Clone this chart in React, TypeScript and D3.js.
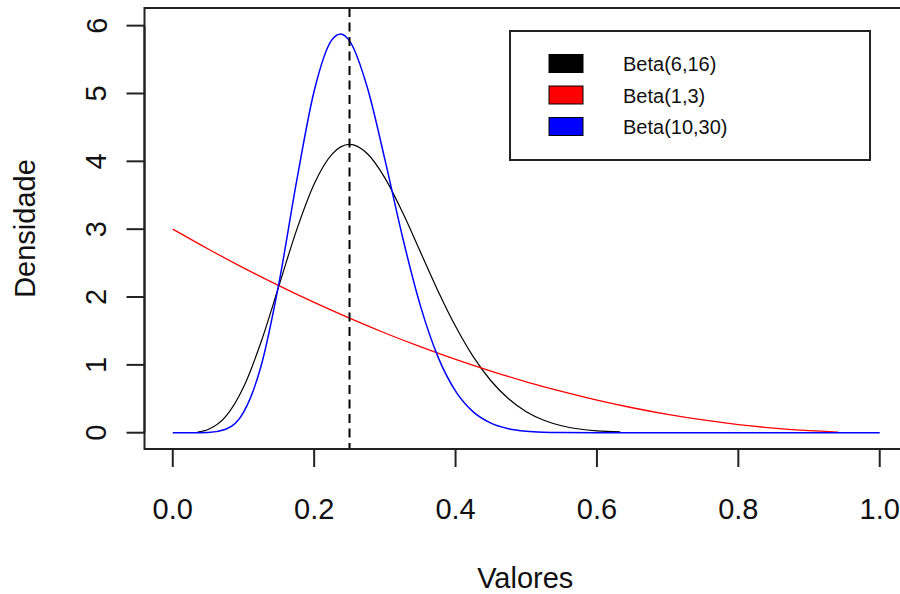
import React from "react";
import * as d3 from "d3";

// Beta(6,16)
const blackX = [0.035, 0.05, 0.075, 0.1, 0.125, 0.15, 0.175, 0.2, 0.225, 0.25, 0.275, 0.3, 0.325, 0.35, 0.375, 0.4, 0.425, 0.45, 0.475, 0.5, 0.525, 0.55, 0.575, 0.6, 0.633];
const blackY = [0.01, 0.047, 0.24, 0.67, 1.341, 2.16, 2.983, 3.666, 4.103, 4.249, 4.115, 3.756, 3.248, 2.671, 2.094, 1.568, 1.121, 0.766, 0.5, 0.31, 0.184, 0.103, 0.055, 0.027, 0.011];

// Beta(1,3)
const redX = [0, 0.05, 0.1, 0.15, 0.2, 0.25, 0.3, 0.35, 0.4, 0.45, 0.5, 0.55, 0.6, 0.65, 0.7, 0.75, 0.8, 0.85, 0.9, 0.941];
const redY = [3.0, 2.708, 2.43, 2.168, 1.92, 1.688, 1.47, 1.268, 1.08, 0.908, 0.75, 0.608, 0.48, 0.368, 0.27, 0.188, 0.12, 0.068, 0.03, 0.01];

// Beta(10,30)
const blueX = [0, 0.025, 0.05, 0.075, 0.1, 0.125, 0.15, 0.175, 0.2, 0.225, 0.2375, 0.25, 0.275, 0.3, 0.325, 0.35, 0.375, 0.4, 0.425, 0.45, 0.475, 0.5, 0.525, 0.55, 0.6, 0.7, 0.8, 0.9, 1.0];
const blueY = [0, 0, 0.003, 0.05, 0.299, 0.986, 2.194, 3.697, 5.037, 5.79, 5.878, 5.775, 5.095, 4.029, 2.884, 1.881, 1.122, 0.614, 0.308, 0.142, 0.06, 0.023, 0.008, 0.003, 0, 0, 0, 0, 0];

const xTicks = [0, 0.2, 0.4, 0.6, 0.8, 1.0];
const yTicks = [0, 1, 2, 3, 4, 5, 6];
const refLine = 0.25;

const legendLabels = ["Beta(6,16)", "Beta(1,3)", "Beta(10,30)"];
const legendColors = ["#000000", "#ff0000", "#0000ff"];

const FONT = "'Liberation Sans', Arial, Helvetica, sans-serif";

export default function App() {
  const left = 144.5, right = 908, top = 8, bottom = 449;
  const x = d3.scaleLinear().domain([-0.04, 1.04]).range([left, right]);
  const y = d3.scaleLinear().domain([-0.24, 6.26]).range([bottom, top]);

  const mk = (xs: number[], ys: number[]) =>
    d3
      .line<number>()
      .x((_, i) => x(xs[i]))
      .y((d) => y(d))
      .curve(d3.curveMonotoneX)(ys) || "";

  const series = [
    { d: mk(blackX, blackY), c: "#000000", w: 1.2 },
    { d: mk(redX, redY), c: "#ff0000", w: 1.3 },
    { d: mk(blueX, blueY), c: "#0000ff", w: 1.5 },
  ];

  const axisColor = "#222";
  const tickLen = 18;

  return (
    <svg
      width={900}
      height={594}
      style={{ position: "absolute", left: 0, top: 0, background: "#fff" }}
      fontFamily={FONT}
    >
      <rect x={0} y={0} width={900} height={594} fill="#fff" />
      <defs>
        <clipPath id="plotclip">
          <rect x={left} y={top} width={right - left} height={bottom - top} />
        </clipPath>
      </defs>

      {/* curves */}
      <g clipPath="url(#plotclip)">
        {series.map((s, i) => (
          <path key={i} d={s.d} fill="none" stroke={s.c} strokeWidth={s.w} strokeLinejoin="round" />
        ))}
        <line
          x1={x(refLine)}
          x2={x(refLine)}
          y1={top}
          y2={bottom}
          stroke="#000"
          strokeWidth={2}
          strokeDasharray="9,5.5"
        />
      </g>

      {/* box */}
      <rect x={left} y={top} width={right - left} height={bottom - top} fill="none" stroke={axisColor} strokeWidth={2} />

      {/* x axis */}
      <line x1={x(xTicks[0])} x2={x(xTicks[xTicks.length - 1])} y1={bottom} y2={bottom} stroke={axisColor} strokeWidth={2} />
      {xTicks.map((t) => (
        <g key={"x" + t}>
          <line x1={x(t)} x2={x(t)} y1={bottom} y2={bottom + tickLen} stroke={axisColor} strokeWidth={2} />
          <text x={x(t)} y={519} textAnchor="middle" fontSize={29} fill="#111">
            {t.toFixed(1)}
          </text>
        </g>
      ))}

      {/* y axis */}
      <line x1={left} x2={left} y1={y(yTicks[0])} y2={y(yTicks[yTicks.length - 1])} stroke={axisColor} strokeWidth={2} />
      {yTicks.map((t) => (
        <g key={"y" + t}>
          <line x1={left - tickLen} x2={left} y1={y(t)} y2={y(t)} stroke={axisColor} strokeWidth={2} />
          <text
            x={106.5}
            y={y(t)}
            transform={`rotate(-90, 106.5, ${y(t)})`}
            textAnchor="middle"
            fontSize={29}
            fill="#111"
          >
            {t}
          </text>
        </g>
      ))}

      {/* axis titles */}
      <text x={(left + right) / 2 - 1} y={588} textAnchor="middle" fontSize={29} fill="#111">
        Valores
      </text>
      <text
        x={35}
        y={(top + bottom) / 2}
        transform={`rotate(-90, 35, ${(top + bottom) / 2})`}
        textAnchor="middle"
        fontSize={29}
        fill="#111"
      >
        Densidade
      </text>

      {/* legend */}
      <rect x={510} y={31} width={360} height={129} fill="#fff" stroke={axisColor} strokeWidth={2} />
      {legendLabels.map((lab, i) => {
        const cy = 63.5 + i * 31.5;
        return (
          <g key={lab}>
            <rect x={549} y={cy - 9} width={34} height={18} fill={legendColors[i]} stroke="#000" strokeWidth={1} />
            <text x={623} y={cy + 7.5} fontSize={20} fill="#111">
              {lab}
            </text>
          </g>
        );
      })}
    </svg>
  );
}
